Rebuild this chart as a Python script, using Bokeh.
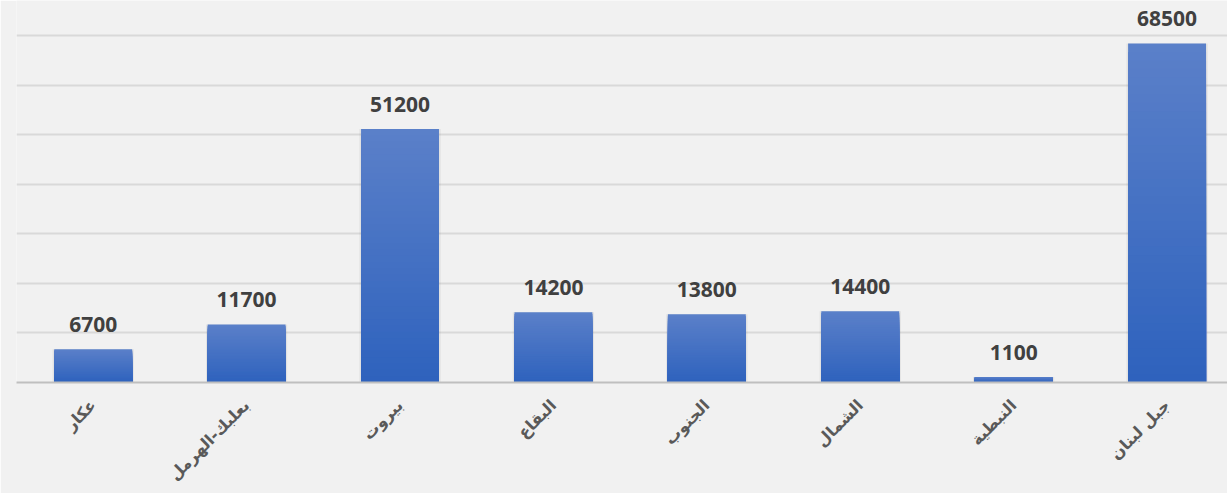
from bokeh.plotting import figure
from bokeh.models import ColumnDataSource, FixedTicker, Range1d
from bokeh.core.properties import value
from bokeh.embed import file_html
from bokeh.resources import INLINE
import numpy as np

categories = ["عكار", "بعلبك-الهرمل", "بيروت", "البقاع", "الجنوب", "الشمال", "النبطية", "جبل لبنان"]
values = [6700, 11700, 51200, 14200, 13800, 14400, 1100, 68500]
grid_ticks = [0, 10000, 20000, 30000, 40000, 50000, 60000, 70000]

W, H = 1227, 493
p = figure(width=W, height=H, output_backend="svg", toolbar_location=None,
           x_range=Range1d(-0.5, 7.394), y_range=Range1d(0, 77170),
           min_border_left=16, min_border_right=0, min_border_top=0, min_border_bottom=111)
p.background_fill_color = "#f1f1f1"
p.border_fill_color = "#f1f1f1"
p.outline_line_color = None

xs = list(range(len(categories)))

# gradient bars: top lighter, bottom darker (nested slices drawn from tallest to shortest)
top_c = np.array([0x5b, 0x80, 0xc9])
bot_c = np.array([0x2e, 0x62, 0xbd])
N = 40
bx, bt, bc = [], [], []
for j in range(N - 1, -1, -1):
    f = (j + 0.5) / N
    c = bot_c + (top_c - bot_c) * f
    col = "#%02x%02x%02x" % tuple(int(round(t)) for t in c)
    for i, v in zip(xs, values):
        bx.append(i)
        bt.append(v * (j + 1) / N)
        bc.append(col)
# soft shadow
p.vbar(x=xs, top=values, bottom=0, width=0.53, fill_color="#000000", fill_alpha=0.06, line_color=None)
p.vbar(x=bx, bottom=0, top=bt, width=0.508, fill_color=bc, line_color=None)

src = ColumnDataSource(dict(x=xs, y=values, t=[str(v) for v in values]))
p.text(x="x", y="y", text="t", source=src, text_align="center", text_baseline="alphabetic",
       y_offset=-25, text_font=value("Open Sans"), text_font_style="bold",
       text_font_size="21px", text_color="#404040")

p.yaxis.visible = False
p.ygrid.ticker = FixedTicker(ticks=grid_ticks)
p.ygrid.grid_line_color = "#d9d9d9"
p.ygrid.grid_line_width = 2
p.xgrid.visible = False

ax = p.xaxis[0]
ax.ticker = FixedTicker(ticks=xs)
ax.major_label_overrides = {i: c for i, c in zip(xs, categories)}
ax.major_label_orientation = np.pi / 4
ax.major_tick_line_color = None
ax.minor_tick_line_color = None
ax.axis_line_color = "#bfbfbf"
ax.axis_line_width = 2
ax.major_label_standoff = 14
ax.major_label_text_font = "DejaVu Sans"
ax.major_label_text_font_style = "bold"
ax.major_label_text_font_size = "16px"
ax.major_label_text_color = "#595959"

open("out.html", "w").write(file_html(p, INLINE))
